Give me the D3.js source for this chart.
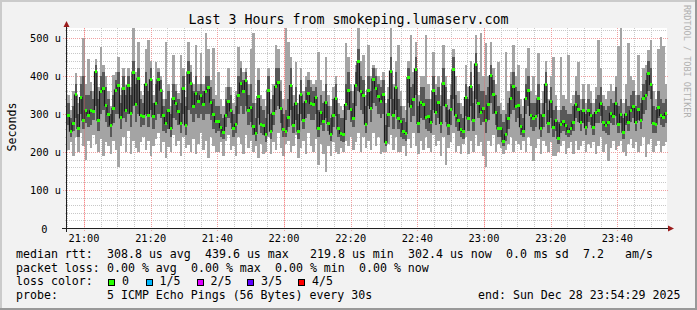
<!DOCTYPE html>
<html><head><meta charset="utf-8">
<script src="https://cdn.jsdelivr.net/npm/d3@7"></script>
<style>
body{margin:0;background:#f2f2f2}
svg{display:block}
text{font-family:"DejaVu Sans Mono",monospace;fill:#000}
</style>
</head><body>
<svg id="c" width="697" height="310"></svg>
<script>
// ---------------- data ----------------
const titleText = "Last 3 Hours from smokeping.lumaserv.com";
const yLabelText = "Seconds";
const yTickValues = [0, 100, 200, 300, 400, 500];           // microseconds
const yTickLabels = ["0", "100 u", "200 u", "300 u", "400 u", "500 u"];
const xTickLabels = ["21:00","21:20","21:40","22:00","22:20","22:40","23:00","23:20","23:40"];
const lossLabels = ["0", "1/5", "2/5", "3/5", "4/5"];
const lossColors = ["#26ff00", "#00b8ff", "#dd00ff", "#5e00ff", "#ff0000"];

// median rtt per sample (us)
const medianVals = [
296,255,276,350,262,343,284,308,297,308,306,411,284,359,368,322,299,271,315,363,
376,290,368,308,376,302,410,325,394,296,293,378,296,390,293,328,390,363,296,275,
308,262,341,328,306,275,368,271,410,381,319,354,332,348,326,359,369,331,299,280,
280,264,252,297,332,308,262,273,348,381,359,387,308,317,267,249,346,273,271,245,
363,255,302,372,383,315,258,255,290,375,271,328,255,350,284,332,354,328,324,343,
261,304,280,331,275,247,297,341,261,249,245,325,363,313,287,376,438,359,348,273,
363,315,392,368,346,334,350,226,299,413,296,369,289,280,254,249,396,319,337,418,
275,331,324,290,293,278,361,304,331,275,381,322,269,311,416,297,284,258,254,343,
287,372,284,431,328,304,315,282,324,401,352,304,261,261,227,245,289,341,372,319,
322,267,254,340,363,296,289,293,340,261,296,378,275,334,264,282,236,273,280,269,
255,261,278,324,311,278,308,264,308,296,264,304,308,328,278,271,278,302,293,328,
273,299,252,299,278,308,319,278,311,284,341,348,407,378,275,273,317,296,290,302];

// smallest ping per sample (us)
const pingMin = [
205,225,190,240,200,250,215,180,230,210,245,220,200,235,190,225,215,195,230,205,
161,215,240,200,255,195,230,210,199,225,240,205,230,190,215,235,250,200,225,185,
214,200,245,215,230,190,240,210,218,200,235,195,220,250,205,230,185,240,215,200,
200,225,190,230,245,205,215,190,240,220,195,245,210,230,200,215,183,220,195,200,
240,195,225,205,250,210,190,220,230,200,215,245,185,210,230,195,250,215,200,235,
166,220,195,148,215,190,225,200,195,210,200,230,215,240,205,225,250,200,240,210,
230,205,250,215,240,195,201,200,220,245,205,240,200,201,215,190,235,210,250,215,
195,230,205,240,210,200,245,215,230,190,240,166,210,225,250,200,215,195,220,240,
195,230,200,245,215,225,190,161,230,215,245,200,220,210,195,205,220,240,200,230,
220,205,230,200,240,215,175,210,235,195,230,215,200,225,190,190,200,215,230,195,
210,225,195,230,205,215,230,200,220,210,225,195,215,240,200,220,175,210,230,205,
215,230,200,190,220,235,210,225,200,215,240,188,220,235,200,215,230,200,215,225];

// second ping per sample (us)
const pingLo = [
270,240,255,290,240,300,260,275,265,270,285,320,255,300,310,280,265,240,275,300,
300,260,290,280,300,265,320,280,300,265,270,300,265,310,260,285,300,290,255,250,
260,240,290,285,270,250,300,245,310,300,280,300,290,300,285,300,300,285,260,250,
255,240,235,265,290,275,240,250,300,320,300,320,270,280,245,230,290,250,245,225,
300,235,270,310,320,275,240,240,265,310,250,285,235,300,260,290,300,285,285,300,
240,270,255,290,255,230,265,295,240,230,225,285,310,280,265,320,360,310,300,250,
320,280,330,320,300,290,300,215,265,340,260,310,260,240,235,230,330,280,295,350,
250,290,285,260,255,250,310,270,290,250,320,280,245,270,340,265,255,240,235,295,
255,320,255,340,290,270,280,250,285,330,300,270,240,240,215,230,260,300,310,280,
290,245,240,300,320,265,255,265,300,240,265,330,250,290,240,255,220,250,255,245,
240,245,255,290,280,255,275,245,280,270,245,275,275,295,255,250,245,275,270,295,
250,275,235,270,255,280,290,255,285,260,300,310,360,340,250,250,290,270,265,275];

// fourth ping per sample (us)
const pingHi = [
330,290,320,380,300,380,400,350,350,360,340,430,340,400,410,370,340,300,350,390,
410,330,400,350,400,350,440,380,420,340,330,410,360,420,330,380,410,390,320,340,
360,300,380,360,340,330,400,320,440,410,360,400,360,380,360,400,400,370,340,320,
320,300,290,340,370,350,300,320,400,420,390,410,350,380,330,290,390,320,310,290,
400,300,350,420,420,360,300,310,340,420,320,370,300,390,330,370,390,370,360,370,
310,350,330,380,320,290,340,380,300,290,290,380,410,360,330,410,470,400,390,320,
400,360,420,400,380,370,390,270,340,450,340,410,340,320,290,280,420,370,380,450,
320,370,370,340,340,310,400,350,370,320,420,370,310,350,450,350,330,300,290,380,
340,410,330,460,380,360,360,350,370,430,390,350,320,300,280,300,330,380,410,370,
360,300,290,380,400,330,330,330,380,300,330,410,310,370,310,320,280,310,320,310,
300,300,320,360,350,310,340,300,340,330,300,340,350,370,320,310,320,340,330,370,
320,340,290,340,320,350,360,320,350,330,380,390,440,420,320,310,360,340,330,340];

// largest ping per sample (us)
const pingMax = [
350,310,360,407,330,400,499,380,446,385,360,446,370,477,430,400,360,320,403,410,
451,350,420,375,420,370,525,410,490,360,350,470,495,440,350,438,420,400,340,490,
380,320,455,380,355,455,420,345,490,430,380,481,380,460,380,512,470,390,473,350,
411,340,320,370,420,370,330,360,477,440,410,420,380,470,512,330,420,350,340,320,
420,340,380,481,470,390,340,525,490,450,350,438,330,420,360,400,411,390,380,390,
464,390,360,450,350,320,370,400,330,320,310,486,450,380,360,430,525,440,455,350,
481,400,430,420,400,390,410,330,370,525,380,440,481,360,320,310,440,508,410,490,
350,400,400,508,380,340,464,380,400,350,481,400,340,380,470,400,360,330,320,430,
370,440,360,508,410,513,400,486,400,490,420,380,438,330,310,464,360,410,481,400,
429,340,320,420,473,360,400,350,460,330,360,440,340,400,451,350,310,451,350,340,
455,330,350,400,438,340,380,330,380,360,330,370,495,420,350,340,360,380,360,400,
480,525,330,380,486,400,390,350,455,360,420,430,468,495,360,340,470,503,480,380];

const legendRtt = [[0,"median rtt:"],[13,"308.8 us avg"],[27,"439.6 us max"],[42,"219.8 us min"],[56,"302.4 us now"],[70,"0.0 ms sd"],[81,"7.2"],[87,"am/s"]];
const legendLoss = [[0,"packet loss:"],[13,"0.00 % avg"],[25,"0.00 % max"],[37,"0.00 % min"],[49,"0.00 % now"]];
const probeText = "5 ICMP Echo Pings (56 Bytes) every 30s";
const endText = "end: Sun Dec 28 23:54:29 2025";
const watermark = "RRDTOOL / TOBI OETIKER";

// ---------------- drawing ----------------
const W = 697, H = 310;
const X0 = 67, X1 = 667, Y0 = 228, Y1 = 28;
const svg = d3.select("#c");

const start = new Date(2025, 11, 28, 20, 54, 54);
const end = new Date(+start + 3 * 3600 * 1000);
const stepMs = (end - start) / medianVals.length;
const x = d3.scaleTime().domain([start, end]).range([X0, X1]);
const y = d3.scaleLinear().domain([0, 526.3]).range([Y0, Y1]);

// background and 3D border
svg.append("rect").attr("width", W).attr("height", H).attr("fill", "#f2f2f2");
svg.append("rect").attr("x", 0).attr("y", 0).attr("width", W).attr("height", 2).attr("fill", "#cbcbcb");
svg.append("rect").attr("x", 0).attr("y", 0).attr("width", 2).attr("height", H).attr("fill", "#cbcbcb");
svg.append("rect").attr("x", 0).attr("y", H - 2).attr("width", W).attr("height", 2).attr("fill", "#999999");
svg.append("rect").attr("x", W - 2).attr("y", 0).attr("width", 2).attr("height", H).attr("fill", "#999999");

// canvas
svg.append("rect").attr("x", X0).attr("y", Y1).attr("width", X1 - X0).attr("height", Y0 - Y1).attr("fill", "#ffffff");

const grid = svg.append("g").attr("shape-rendering", "crispEdges");
const yMinor = y.ticks(26).filter(v => v % 100 !== 0 && v < 526);
grid.selectAll(".hmin").data(yMinor).enter().append("line")
  .attr("x1", X0 - 2).attr("x2", X1).attr("y1", d => Math.round(y(d)) + 0.5).attr("y2", d => Math.round(y(d)) + 0.5)
  .attr("stroke", "#c8c8c8").attr("stroke-dasharray", "1,1");
const xMinor = d3.timeMinute.every(5).range(start, end).filter(t => t.getMinutes() % 20 !== 0);
grid.selectAll(".vmin").data(xMinor).enter().append("line")
  .attr("x1", d => Math.round(x(d)) + 0.5).attr("x2", d => Math.round(x(d)) + 0.5).attr("y1", Y1).attr("y2", Y0 + 2)
  .attr("stroke", "#c8c8c8").attr("stroke-dasharray", "1,1");
grid.selectAll(".hmaj").data(yTickValues.filter(v => v > 0)).enter().append("line")
  .attr("x1", X0 - 4).attr("x2", X1 + 2).attr("y1", d => Math.round(y(d)) + 0.5).attr("y2", d => Math.round(y(d)) + 0.5)
  .attr("stroke", "#f0a0a0").attr("stroke-dasharray", "1,1");
const parseHM = d3.timeParse("%H:%M");
const xMajor = xTickLabels.map(s => { const p = parseHM(s); return new Date(2025, 11, 28, p.getHours(), p.getMinutes()); });
grid.selectAll(".vmaj").data(xMajor).enter().append("line")
  .attr("x1", d => Math.round(x(d)) + 0.5).attr("x2", d => Math.round(x(d)) + 0.5).attr("y1", Y1).attr("y2", Y0 + 3)
  .attr("stroke", "#f0a0a0").attr("stroke-dasharray", "1,1");

// smoke
const samples = medianVals.map((m, i) => ({
  t0: new Date(+start + i * stepMs), t1: new Date(+start + (i + 1) * stepMs),
  med: m, min: pingMin[i], lo: pingLo[i], hi: pingHi[i], max: pingMax[i]
}));
const smoke = svg.append("g").attr("shape-rendering", "crispEdges");
smoke.selectAll(".outer").data(samples).enter().append("rect")
  .attr("x", d => x(d.t0)).attr("width", d => x(d.t1) - x(d.t0))
  .attr("y", d => y(d.max)).attr("height", d => y(d.min) - y(d.max))
  .attr("fill", "#a4a4a4");
smoke.selectAll(".inner").data(samples).enter().append("rect")
  .attr("x", d => x(d.t0)).attr("width", d => x(d.t1) - x(d.t0))
  .attr("y", d => y(d.hi)).attr("height", d => y(d.lo) - y(d.hi))
  .attr("fill", "#585858");

// median step line
let path = "";
samples.forEach((d, i) => {
  const xa = x(d.t0), xb = x(d.t1), ym = y(d.med);
  path += (i === 0 ? "M" : "L") + xa + "," + ym + "L" + xb + "," + ym;
});
svg.append("path").attr("d", path).attr("fill", "none").attr("stroke", "#181818").attr("stroke-width", 1.2);

// median markers (loss 0 colour)
svg.append("g").attr("shape-rendering", "crispEdges").selectAll("rect").data(samples).enter().append("rect")
  .attr("x", d => x(d.t0) + 0.3).attr("width", d => Math.max(2, x(d.t1) - x(d.t0) - 0.3))
  .attr("y", d => y(d.med) - 1.5).attr("height", 3)
  .attr("fill", lossColors[0]);

// full hour rules
svg.append("g").selectAll("line").data(xMajor.filter(d => d.getMinutes() === 0)).enter().append("line")
  .attr("x1", d => Math.round(x(d)) + 0.5).attr("x2", d => Math.round(x(d)) + 0.5).attr("y1", Y1).attr("y2", Y0)
  .attr("stroke", "rgba(255,95,95,0.28)").attr("shape-rendering", "crispEdges");

// axes
svg.append("line").attr("x1", X0 - 5).attr("x2", X1 + 3).attr("y1", Y0 + 0.5).attr("y2", Y0 + 0.5)
  .attr("stroke", "#202020").attr("shape-rendering", "crispEdges");
svg.append("line").attr("x1", X0 - 0.5).attr("x2", X0 - 0.5).attr("y1", Y0 + 4).attr("y2", Y1 - 4)
  .attr("stroke", "#202020").attr("shape-rendering", "crispEdges");
svg.append("path").attr("d", `M${X0 - 3.5},${Y1 - 1}L${X0 + 2.5},${Y1 - 1}L${X0 - 0.5},${Y1 - 7}Z`).attr("fill", "#9b1c1c");
svg.append("path").attr("d", `M${X1 + 1},${Y0 - 2.5}L${X1 + 1},${Y0 + 3.5}L${X1 + 7},${Y0 + 0.5}Z`).attr("fill", "#9b1c1c");

// tick labels
svg.selectAll(".ylab").data(yTickValues).enter().append("text")
  .attr("x", d => d === 0 ? 47.5 : 61).attr("y", d => y(d) + 4.5)
  .attr("text-anchor", "end").attr("font-size", "10.3px")
  .text((d, i) => yTickLabels[i]);
svg.selectAll(".xlab").data(xMajor).enter().append("text")
  .attr("x", d => x(d)).attr("y", 242)
  .attr("text-anchor", "middle").attr("font-size", "10.3px")
  .text((d, i) => xTickLabels[i]);

// title, axis label, watermark
svg.append("text").attr("x", 348.5).attr("y", 24).attr("text-anchor", "middle").attr("font-size", "13.3px").text(titleText);
svg.append("text").attr("transform", "translate(15.5,127) rotate(-90)").attr("text-anchor", "middle")
  .attr("font-size", "11.6px").text(yLabelText);
svg.append("text").attr("transform", "translate(683.5,5) rotate(90)").attr("font-size", "8.5px")
  .style("fill", "#b0b0b0").text(watermark);

// legend
const LX = 16, CW = 7, LF = "11.6px";
const rows = [258, 271.5, 285, 298.5];
legendRtt.forEach(([c, s]) => svg.append("text").attr("x", LX + c * CW).attr("y", rows[0]).attr("font-size", LF).text(s));
legendLoss.forEach(([c, s]) => svg.append("text").attr("x", LX + c * CW).attr("y", rows[1]).attr("font-size", LF).text(s));
svg.append("text").attr("x", LX).attr("y", rows[2]).attr("font-size", LF).text("loss color:");
const boxX = [108, 145.5, 196.5, 247, 298];
lossLabels.forEach((s, i) => {
  svg.append("rect").attr("x", boxX[i] + 0.5).attr("y", 279.5).attr("width", 6).attr("height", 6)
    .attr("fill", lossColors[i]).attr("stroke", "#000").attr("shape-rendering", "crispEdges");
  svg.append("text").attr("x", boxX[i] + 14).attr("y", rows[2]).attr("font-size", LF).text(s);
});
svg.append("text").attr("x", LX).attr("y", rows[3]).attr("font-size", LF).text("probe:");
svg.append("text").attr("x", LX + 13 * CW).attr("y", rows[3]).attr("font-size", LF).text(probeText);
svg.append("text").attr("x", 478).attr("y", rows[3]).attr("font-size", LF).text(endText);
</script>
</body></html>
